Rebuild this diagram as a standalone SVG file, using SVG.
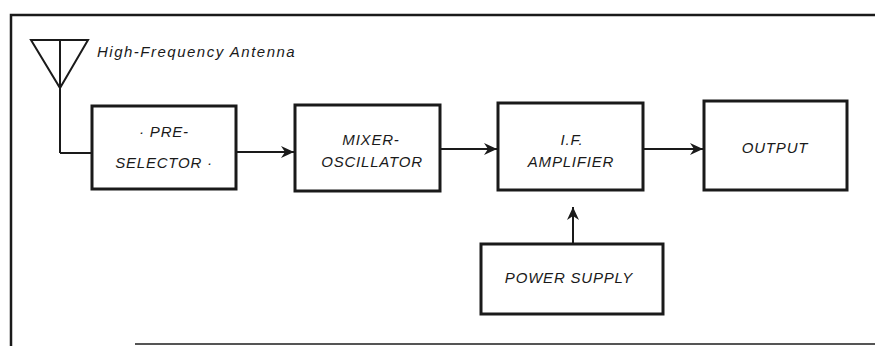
<svg xmlns="http://www.w3.org/2000/svg" width="875" height="346" viewBox="0 0 875 346">
<defs>
<style>
.box{fill:#fff;stroke:#1a1a1a;stroke-width:3}
.t{font-family:"Liberation Sans",Arial,sans-serif;font-style:italic;font-size:15px;fill:#1a1a1a;text-anchor:middle;letter-spacing:0.8px}
.w{fill:none;stroke:#1a1a1a;stroke-width:2}
.frame{fill:none;stroke:#1a1a1a;stroke-width:2.5}
</style>
<marker id="ah" viewBox="0 0 14 12" refX="13" refY="6" markerWidth="14" markerHeight="12" markerUnits="userSpaceOnUse" orient="auto">
<path d="M0,0 L13,6 L0,12 L4,6 Z" fill="#1a1a1a"/>
</marker>
</defs>
<rect width="875" height="346" fill="#fff"/>
<g id="frame">
<path class="frame" d="M11,346 V15 H875"/>
<path d="M135,344 H875" stroke="#555" stroke-width="2" fill="none"/>
</g>
<g id="antenna">
<path class="w" d="M31,40 H88 L60,88 Z M60,40 V153"/>
<text x="97" y="57" style="font-family:'Liberation Sans',Arial,sans-serif;font-style:italic;font-size:15px;fill:#1a1a1a;letter-spacing:1.5px">High-Frequency Antenna</text>
</g>
<g id="connectors">
<path class="w" d="M60,153 H92"/>
<path class="w" d="M236,152 H294" marker-end="url(#ah)"/>
<path class="w" d="M440,149 H497" marker-end="url(#ah)"/>
<path class="w" d="M643,149 H703" marker-end="url(#ah)"/>
<path class="w" d="M573,244 V207" marker-end="url(#ah)"/>
</g>
<g id="preselector">
<rect class="box" x="92" y="106" width="144" height="83"/>
<text class="t" x="164" y="137">· PRE-</text>
<text class="t" x="164" y="168">SELECTOR ·</text>
</g>
<g id="mixer">
<rect class="box" x="295" y="105" width="145" height="86"/>
<text class="t" x="371" y="145">MIXER-</text>
<text class="t" x="372" y="167">OSCILLATOR</text>
</g>
<g id="if-amplifier">
<rect class="box" x="498" y="103" width="145" height="87"/>
<text class="t" x="572" y="145">I.F.</text>
<text class="t" x="571" y="167">AMPLIFIER</text>
</g>
<g id="output">
<rect class="box" x="704" y="101" width="143" height="89"/>
<text class="t" x="775" y="153">OUTPUT</text>
</g>
<g id="power-supply">
<rect class="box" x="481" y="244" width="182" height="70"/>
<text class="t" x="569" y="283">POWER  SUPPLY</text>
</g>
</svg>
